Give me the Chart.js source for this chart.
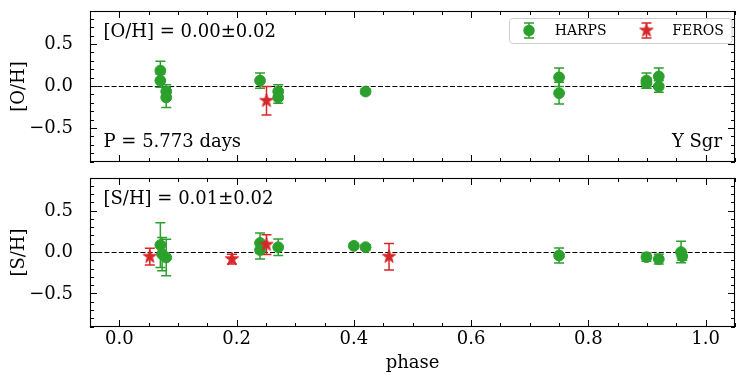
<!DOCTYPE html>
<html><head><meta charset="utf-8">
<script src="https://cdn.jsdelivr.net/npm/chart.js@4.4.1/dist/chart.umd.min.js"></script>
<style>
html,body{margin:0;padding:0;background:#fff;}
#wrap{position:relative;width:750px;height:380px;overflow:hidden;}
#c1{position:absolute;left:0;top:0;}
#c2{position:absolute;left:0;top:170px;}
</style></head><body>
<div id="wrap">
<canvas id="c1" width="750" height="170"></canvas>
<canvas id="c2" width="750" height="210"></canvas>
</div>
<script>
// ---------------- data ----------------
const xTicks = [0.0, 0.2, 0.4, 0.6, 0.8, 1.0];
const yTicks = [-0.5, 0.0, 0.5];
const xRange = [-0.05, 1.05];
const yRange = [-0.9, 0.9];
const refLevel = 0;

// [O/H] panel
const ohHarpsPhase = [0.070, 0.070, 0.080, 0.080, 0.240, 0.271, 0.271, 0.420, 0.750, 0.750, 0.899, 0.899, 0.920, 0.920];
const ohHarpsVal   = [0.19, 0.07, -0.06, -0.13, 0.07, -0.06, -0.13, -0.06, 0.11, -0.08, 0.07, 0.04, 0.12, 0.00];
const ohHarpsErr   = [0.11, 0.08, 0.08, 0.12, 0.09, 0.08, 0.07, 0.03, 0.11, 0.13, 0.09, 0.06, 0.10, 0.07];
const ohFerosPhase = [0.251];
const ohFerosVal   = [-0.17];
const ohFerosErr   = [0.17];

// [S/H] panel
const shHarpsPhase = [0.070, 0.073, 0.080, 0.240, 0.240, 0.271, 0.400, 0.420, 0.750, 0.899, 0.920, 0.958, 0.960];
const shHarpsVal   = [0.09, -0.02, -0.06, 0.115, 0.03, 0.064, 0.08, 0.064, -0.036, -0.056, -0.08, 0.005, -0.045];
const shHarpsErr   = [0.27, 0.20, 0.22, 0.12, 0.11, 0.10, 0.03, 0.03, 0.09, 0.05, 0.06, 0.13, 0.05];
const shFerosPhase = [0.052, 0.192, 0.251, 0.460];
const shFerosVal   = [-0.05, -0.08, 0.095, -0.05];
const shFerosErr   = [0.10, 0.06, 0.12, 0.16];

const panelTexts = {
  top: {ylabel: '[O/H]', corner: '[O/H] = 0.00±0.02', bottomLeft: 'P = 5.773 days', bottomRight: 'Y Sgr'},
  bottom: {ylabel: '[S/H]', corner: '[S/H] = 0.01±0.02'}
};
const legendLabels = ['HARPS', 'FEROS'];
const xTitle = 'phase';

// ---------------- styles ----------------
const GREEN = '#2ca02c', RED = '#d62728';
const SERIF = '"DejaVu Serif", "Liberation Serif", serif';
const FS = 18;

function drawStarPath(ctx, cx, cy, R) {
  const r = R * 0.381966;
  ctx.beginPath();
  for (let i = 0; i < 10; i++) {
    const a = -Math.PI / 2 + i * Math.PI / 5;
    const rr = (i % 2 === 0) ? R : r;
    const px = cx + rr * Math.cos(a), py = cy + rr * Math.sin(a);
    if (i === 0) ctx.moveTo(px, py); else ctx.lineTo(px, py);
  }
  ctx.closePath();
}
const starImg = document.createElement('canvas');
starImg.width = 18; starImg.height = 18;
(function(){
  const c = starImg.getContext('2d');
  drawStarPath(c, 9, 9, 7);
  c.fillStyle = RED; c.fill();
  c.lineWidth = 1; c.strokeStyle = RED; c.lineJoin = 'miter'; c.stroke();
})();

function pts(xs, ys) { return xs.map((x, i) => ({x: x, y: ys[i]})); }

const decorPlugin = {
  id: 'decor',
  beforeDatasetsDraw(chart, args, opts) {
    const ctx = chart.ctx, ca = chart.chartArea;
    const xs = chart.scales.x, ys = chart.scales.y;
    ctx.save();
    ctx.beginPath(); ctx.rect(ca.left, ca.top, ca.right - ca.left, ca.bottom - ca.top); ctx.clip();
    // dashed reference line
    const y0 = Math.floor(ys.getPixelForValue(refLevel)) + 0.5;
    ctx.strokeStyle = '#000'; ctx.lineWidth = 1.1; ctx.setLineDash([5, 2.2]);
    ctx.beginPath(); ctx.moveTo(ca.left, y0); ctx.lineTo(ca.right, y0); ctx.stroke();
    ctx.setLineDash([]);
    // error bars
    chart.data.datasets.forEach((ds) => {
      ctx.strokeStyle = ds.backgroundColor; ctx.lineWidth = 1.5;
      ds.data.forEach((p, i) => {
        const e = ds.errors[i];
        const px = xs.getPixelForValue(p.x);
        const pt = ys.getPixelForValue(p.y + e), pb = ys.getPixelForValue(p.y - e);
        ctx.beginPath();
        ctx.moveTo(px, pt); ctx.lineTo(px, pb);
        ctx.moveTo(px - 5, pt); ctx.lineTo(px + 5, pt);
        ctx.moveTo(px - 5, pb); ctx.lineTo(px + 5, pb);
        ctx.stroke();
      });
    });
    ctx.restore();
  },
  afterDraw(chart, args, opts) {
    const ctx = chart.ctx, ca = chart.chartArea;
    const xs = chart.scales.x, ys = chart.scales.y;
    ctx.save();
    // frame
    ctx.strokeStyle = '#000'; ctx.lineWidth = 1.1;
    ctx.strokeRect(ca.left + 0.5, ca.top + 0.5, ca.right - ca.left - 1, ca.bottom - ca.top - 1);
    // ticks
    ctx.lineWidth = 1;
    const MAJ = 7, MIN = 4;
    const xMinor = [], yMinor = [];
    for (let k = -1; k <= 21; k++) { const v = +(k * 0.05).toFixed(2); if (v >= xRange[0] && v <= xRange[1]) xMinor.push(v); }
    for (let k = -9; k <= 9; k++) yMinor.push(+(k * 0.1).toFixed(2));
    ctx.beginPath();
    xMinor.forEach(v => {
      const isMaj = xTicks.some(t => Math.abs(t - v) < 1e-6);
      const L = isMaj ? MAJ : MIN;
      const px = Math.round(xs.getPixelForValue(v)) + 0.5;
      ctx.moveTo(px, ca.bottom); ctx.lineTo(px, ca.bottom - L);
      ctx.moveTo(px, ca.top); ctx.lineTo(px, ca.top + L);
    });
    yMinor.forEach(v => {
      const isMaj = yTicks.some(t => Math.abs(t - v) < 1e-6);
      const L = isMaj ? MAJ : MIN;
      const py = Math.floor(ys.getPixelForValue(v)) + 0.5;
      ctx.moveTo(ca.left, py); ctx.lineTo(ca.left + L, py);
      ctx.moveTo(ca.right, py); ctx.lineTo(ca.right - L, py);
    });
    ctx.stroke();
    // annotations
    const t = opts.texts;
    ctx.fillStyle = '#000';
    ctx.font = FS + 'px ' + SERIF;
    ctx.textBaseline = 'alphabetic';
    ctx.textAlign = 'left';
    if (t.corner) ctx.fillText(t.corner, ca.left + 13.5, ca.top + 25.7);
    if (t.bottomLeft) ctx.fillText(t.bottomLeft, ca.left + 13.5, ca.bottom - 15.5);
    if (t.bottomRight) { ctx.textAlign = 'right'; ctx.fillText(t.bottomRight, ca.right - 13, ca.bottom - 15.5); }
    // legend
    if (opts.legend) {
      const bx = ca.right - 226, by = ca.top + 7, bw = 222.5, bh = 25;
      ctx.beginPath();
      if (ctx.roundRect) ctx.roundRect(bx + 0.5, by + 0.5, bw, bh, 3); else ctx.rect(bx + 0.5, by + 0.5, bw, bh);
      ctx.fillStyle = 'rgba(255,255,255,0.8)'; ctx.fill();
      ctx.strokeStyle = '#cccccc'; ctx.lineWidth = 1; ctx.stroke();
      const cy = by + 12.5;
      const items = [{x: bx + 20, c: GREEN, star: false}, {x: bx + 137.5, c: RED, star: true}];
      items.forEach((it, i) => {
        ctx.strokeStyle = it.c; ctx.lineWidth = 1.5;
        ctx.beginPath();
        ctx.moveTo(it.x, cy - 7.5); ctx.lineTo(it.x, cy + 7.5);
        ctx.moveTo(it.x - 5, cy - 7.5); ctx.lineTo(it.x + 5, cy - 7.5);
        ctx.moveTo(it.x - 5, cy + 7.5); ctx.lineTo(it.x + 5, cy + 7.5);
        ctx.stroke();
        if (it.star) {
          ctx.drawImage(starImg, it.x - 9, cy - 9);
        } else {
          ctx.beginPath(); ctx.arc(it.x, cy, 5.7, 0, Math.PI * 2);
          ctx.fillStyle = it.c; ctx.fill();
        }
        ctx.fillStyle = '#000';
        ctx.font = '14px ' + SERIF;
        ctx.textAlign = 'left';
        ctx.fillText(legendLabels[i], it.x + 25.7, cy + 4.5);
      });
    }
    ctx.restore();
  }
};

function noPad(s) { s.paddingTop = 0; s.paddingBottom = 0; s.paddingLeft = 0; s.paddingRight = 0; }

function makeChart(canvasId, harpsX, harpsY, harpsE, ferosX, ferosY, ferosE, texts, isBottom, showLegend) {
  return new Chart(document.getElementById(canvasId), {
    type: 'scatter',
    data: {
      datasets: [
        {label: legendLabels[0], data: pts(harpsX, harpsY), errors: harpsE, order: 1,
         backgroundColor: GREEN, borderColor: GREEN, pointStyle: 'circle', pointRadius: 5.4, pointBorderWidth: 1, pointHoverRadius: 5.4},
        {label: legendLabels[1], data: pts(ferosX, ferosY), errors: ferosE, order: 0,
         backgroundColor: RED, borderColor: RED, pointStyle: starImg, pointRadius: 7, pointHoverRadius: 7}
      ]
    },
    options: {
      responsive: false, animation: false, devicePixelRatio: 1,
      layout: {padding: {top: isBottom ? 7 : 11, right: 15, left: 0, bottom: 0}},
      plugins: {legend: {display: false}, tooltip: {enabled: false}, decor: {texts: texts, legend: showLegend}},
      events: [],
      scales: {
        x: {
          type: 'linear', min: xRange[0], max: xRange[1],
          grid: {display: false, drawTicks: false}, border: {display: false},
          afterBuildTicks: s => { s.ticks = xTicks.map(v => ({value: v})); },
          ticks: {display: isBottom, color: '#000', padding: 2, maxRotation: 0, autoSkip: false,
                  font: {family: SERIF, size: FS}, callback: v => v.toFixed(1)},
          title: {display: isBottom, text: xTitle, color: '#000', font: {family: SERIF, size: FS}, padding: {top: 0, bottom: 5.5}},
          afterFit: s => { s.height = isBottom ? 53 : 8; noPad(s); }
        },
        y: {
          type: 'linear', min: yRange[0], max: yRange[1],
          grid: {display: false}, border: {display: false},
          afterBuildTicks: s => { s.ticks = yTicks.map(v => ({value: v})); },
          ticks: {color: '#000', padding: 9, font: {family: SERIF, size: FS},
                  callback: v => (v < 0 ? '\u2212' + Math.abs(v).toFixed(1) : v.toFixed(1))},
          title: {display: true, text: texts.ylabel, color: '#000', font: {family: SERIF, size: FS}, padding: {top: 9, bottom: 0}},
          afterFit: s => { s.width = 90; noPad(s); }
        }
      }
    },
    plugins: [decorPlugin]
  });
}

makeChart('c1', ohHarpsPhase, ohHarpsVal, ohHarpsErr, ohFerosPhase, ohFerosVal, ohFerosErr, panelTexts.top, false, true);
makeChart('c2', shHarpsPhase, shHarpsVal, shHarpsErr, shFerosPhase, shFerosVal, shFerosErr, panelTexts.bottom, true, false);
</script>
</body></html>
